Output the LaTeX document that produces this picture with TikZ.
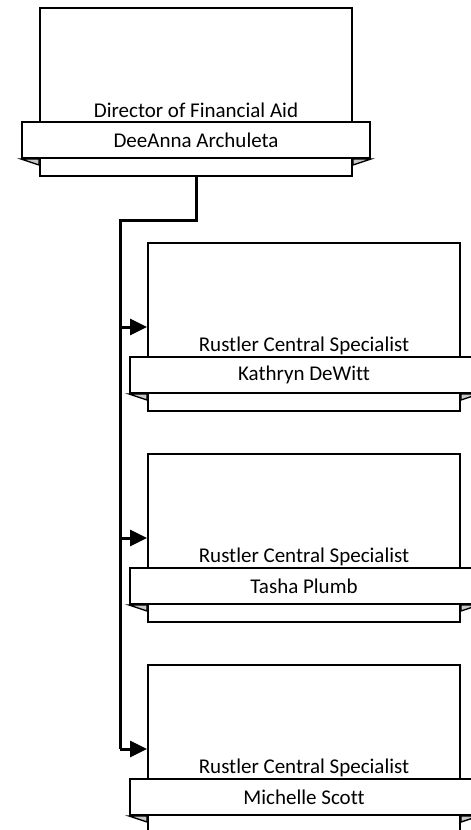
\documentclass[tikz,border=0pt]{standalone}
\usepackage{fontspec}
\setmainfont[Ligatures=CommonOff]{Carlito}
\usepackage{tikz}
\usetikzlibrary{arrows.meta,positioning,calc}
\definecolor{inkline}{HTML}{000000}
\definecolor{foldgray}{HTML}{C8C8C8}
\tikzset{
  rolebox/.style={
    rectangle, draw=inkline, fill=white, line width=2pt,
    minimum width=312pt, minimum height=168pt,
    inner sep=0pt
  },
  namebanner/.style={
    rectangle, draw=inkline, fill=white, line width=2pt,
    minimum width=348pt, minimum height=36pt,
    font=\fontsize{21}{25}\selectfont, inner sep=0pt
  },
  roletitle/.style={
    font=\fontsize{21}{25}\selectfont, inner sep=0pt
  },
  foldtip/.style={
    draw=inkline, fill=foldgray, line width=1.4pt, line join=miter
  },
  linkarrow/.style={
    -{Triangle[length=17pt,width=16pt]}, line width=3pt, color=inkline
  },
  linkline/.style={
    line width=3pt, color=inkline
  },
}
\begin{document}
\begin{tikzpicture}[x=1pt,y=-1pt]
  \useasboundingbox (0,0) rectangle (471,830);
  % director
  \node[rolebox] (dir) at (196,92) {};
  \node[roletitle] (dirT) at (196,110) {Director of Financial Aid};
  \node[namebanner] (dirN) at (196,140) {DeeAnna Archuleta};
  \draw[foldtip] (dirN.south west) -- (dir.west |- dirN.south) -- ++(0,6) -- cycle;
  \draw[foldtip] (dirN.south east) -- (dir.east |- dirN.south) -- ++(0,6) -- cycle;
  % specialists
  \foreach \i/\cy/\who in {1/327/Kathryn DeWitt,2/538/Tasha Plumb,3/749/Michelle Scott}{
    \node[rolebox] (s\i) at (304,\cy) {};
    \node[roletitle] (s\i T) at (304,\cy+19) {Rustler Central Specialist};
    \node[namebanner] (s\i N) at (304,\cy+48) {\who};
    \draw[foldtip] (s\i N.south west) -- (s\i.west |- s\i N.south) -- ++(0,6) -- cycle;
    \draw[foldtip] (s\i N.south east) -- (s\i.east |- s\i N.south) -- ++(0,6) -- cycle;
  }
  % connectors
  \coordinate (trunk) at (120,220);
  \draw[linkline] (dir.south) |- (trunk) -- (trunk |- s3.west);
  \draw[linkarrow] (trunk |- s1.west) -- (s1.west);
  \draw[linkarrow] (trunk |- s2.west) -- (s2.west);
  \draw[linkarrow] (trunk |- s3.west) -- (s3.west);
\end{tikzpicture}
\end{document}
